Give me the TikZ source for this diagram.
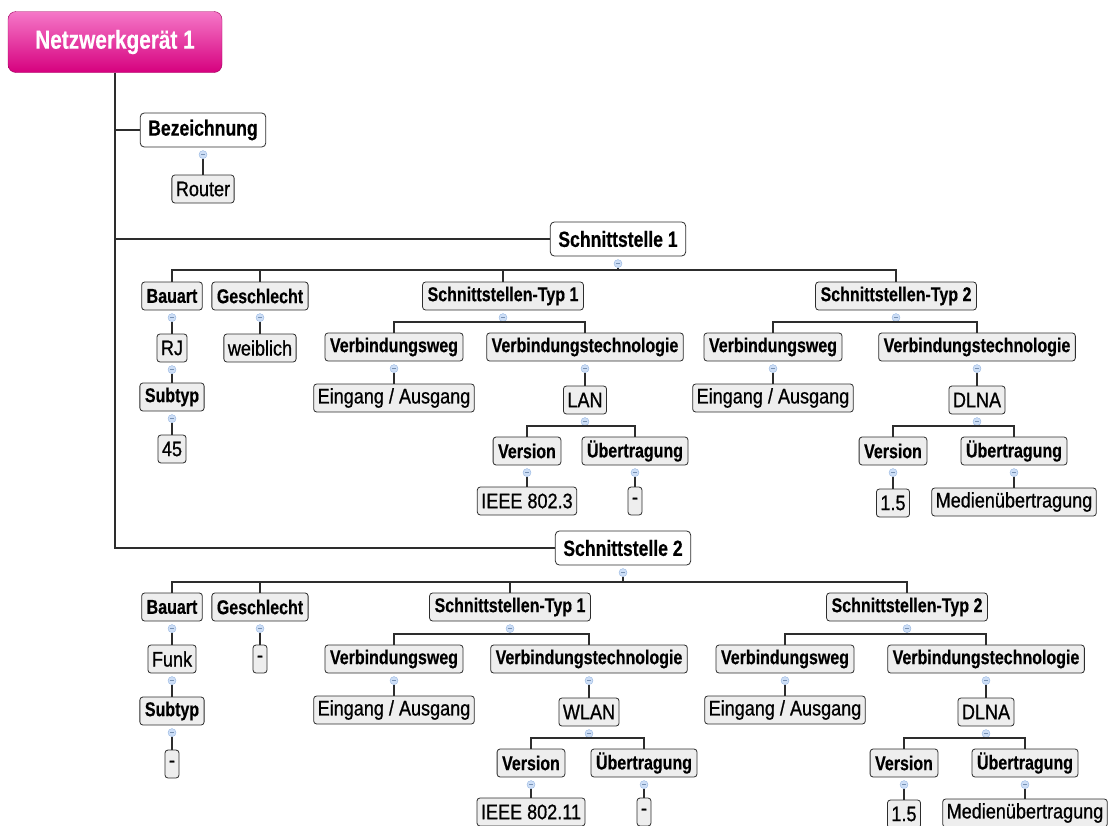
\documentclass[tikz,border=0pt]{standalone}
\usepackage{fontspec}
\setmainfont{Liberation Sans}[FakeStretch=0.86, FakeBold=0.8]
\newfontfamily\headfont{Liberation Sans}[FakeStretch=0.8, FakeBold=0.4]
\usepackage{tikz}
\usetikzlibrary{positioning}
\definecolor{linegray}{RGB}{45,45,45}
\definecolor{boxgray}{RGB}{238,238,238}
\definecolor{dotblue}{RGB}{205,222,246}
\definecolor{dotrim}{RGB}{150,182,225}
\definecolor{rootpink}{RGB}{245,120,200}
\definecolor{rootmag}{RGB}{214,0,126}
\tikzstyle{root} = [rectangle, rounded corners=8pt, draw=rootmag!75!black, top color=rootpink,
    bottom color=rootmag, text=white, font=\headfont\bfseries\fontsize{26}{28}\selectfont,
    minimum width=214pt, minimum height=61pt]
\tikzstyle{group} = [rectangle, rounded corners=4pt, draw=linegray, fill=white, thick,
    font=\headfont\bfseries\fontsize{22}{24}\selectfont, minimum height=34pt, inner xsep=8pt]
\tikzstyle{field} = [rectangle, rounded corners=3pt, draw=linegray, fill=boxgray, thick,
    font=\headfont\bfseries\fontsize{20}{22}\selectfont, minimum height=28pt, inner xsep=5pt]
\tikzstyle{value} = [field, font=\fontsize{21}{23}\selectfont, inner xsep=4pt]
\tikzstyle{dot} = [circle, draw=dotrim, fill=dotblue, inner sep=0pt, minimum size=8pt,
    path picture={\draw[dotrim!80!black, line width=0.6pt]
      ([xshift=-2pt]path picture bounding box.center) -- ([xshift=2pt]path picture bounding box.center);}]
\tikzstyle{link} = [draw=linegray, line width=1.2pt]

\begin{document}
\begin{tikzpicture}[x=1pt, y=-1pt]
    \useasboundingbox (0,0) rectangle (1111,825);
    \clip (0,0) rectangle (1111,825);

    \node[root] (geraet) at (115,42) {Netzwerkgerät 1};
    \node[group] (bez) at (203,130) {Bezeichnung};
    \node[value] (router) at (203,189) {Router};
    \node[group] (sA) at (618,239) {Schnittstelle 1};
    \node[group] (sB) at (623,548) {Schnittstelle 2};

    % Schnittstelle 1
    \node[field] (bauA) at (172,296) {Bauart};
    \node[field] (gesA) at (260,296) {Geschlecht};
    \node[field] (typA1) at (503,296) {Schnittstellen-Typ 1};
    \node[field] (typA2) at (896,296) {Schnittstellen-Typ 2};
    \node[value] (rjA) at (172,348) {RJ};
    \node[field] (subA) at (172,397) {Subtyp};
    \node[value] (numA) at (172,449) {45};
    \node[value] (weibA) at (260,348) {weiblich};
    \node[field] (wegA1) at (394,347) {Verbindungsweg};
    \node[field] (techA1) at (585,347) {Verbindungstechnologie};
    \node[value] (eaA1) at (394,398) {Eingang / Ausgang};
    \node[value] (lanA) at (585,400) {LAN};
    \node[field] (verA1) at (527,451) {Version};
    \node[field] (uebA1) at (635,451) {Übertragung};
    \node[value] (ieeeA) at (527,501) {IEEE 802.3};
    \node[value] (nonA) at (635,501) {-};
    \node[field] (wegA2) at (773,347) {Verbindungsweg};
    \node[field] (techA2) at (977,347) {Verbindungstechnologie};
    \node[value] (eaA2) at (773,398) {Eingang / Ausgang};
    \node[value] (dlnaA) at (977,400) {DLNA};
    \node[field] (verA2) at (893,451) {Version};
    \node[field] (uebA2) at (1014,451) {Übertragung};
    \node[value] (numA2) at (893,503) {1.5};
    \node[value] (medA) at (1014,502) {Medienübertragung};

    % Schnittstelle 2
    \node[field] (bauB) at (172,607) {Bauart};
    \node[field] (gesB) at (260,607) {Geschlecht};
    \node[field] (typB1) at (510,607) {Schnittstellen-Typ 1};
    \node[field] (typB2) at (907,607) {Schnittstellen-Typ 2};
    \node[value] (funkB) at (172,659) {Funk};
    \node[field] (subB) at (172,711) {Subtyp};
    \node[value] (nonB1) at (172,764) {-};
    \node[value] (nonB2) at (260,659) {-};
    \node[field] (wegB1) at (394,659) {Verbindungsweg};
    \node[field] (techB1) at (589,659) {Verbindungstechnologie};
    \node[value] (eaB1) at (394,710) {Eingang / Ausgang};
    \node[value] (wlanB) at (589,712) {WLAN};
    \node[field] (verB1) at (531,763) {Version};
    \node[field] (uebB1) at (644,763) {Übertragung};
    \node[value] (ieeeB) at (531,812) {IEEE 802.11};
    \node[value] (nonB3) at (644,812) {-};
    \node[field] (wegB2) at (785,659) {Verbindungsweg};
    \node[field] (techB2) at (986,659) {Verbindungstechnologie};
    \node[value] (eaB2) at (785,710) {Eingang / Ausgang};
    \node[value] (dlnaB) at (986,712) {DLNA};
    \node[field] (verB2) at (904,763) {Version};
    \node[field] (uebB2) at (1025,763) {Übertragung};
    \node[value] (numB2) at (904,814) {1.5};
    \node[value] (medB) at (1025,813) {Medienübertragung};

    % trunk
    \draw[link] (geraet.south) -- (geraet.south |- sB) -- (sB);
    \draw[link] (geraet.south |- bez) -- (bez);
    \draw[link] (geraet.south |- sA) -- (sA);

    % collapse dots
    \foreach \p in {bez,sA,bauA,rjA,subA,gesA,typA1,typA2,wegA1,techA1,lanA,verA1,uebA1,
        wegA2,techA2,dlnaA,verA2,uebA2,sB,bauB,funkB,subB,gesB,typB1,typB2,wegB1,techB1,
        wlanB,verB1,uebB1,wegB2,techB2,dlnaB,verB2,uebB2}
      \node[dot, below=3pt of \p] (d\p) {};

    % one child
    \foreach \p/\c in {bez/router,bauA/rjA,rjA/subA,subA/numA,gesA/weibA,wegA1/eaA1,
        techA1/lanA,verA1/ieeeA,uebA1/nonA,wegA2/eaA2,techA2/dlnaA,verA2/numA2,uebA2/medA,
        bauB/funkB,funkB/subB,subB/nonB1,gesB/nonB2,wegB1/eaB1,techB1/wlanB,verB1/ieeeB,
        uebB1/nonB3,wegB2/eaB2,techB2/dlnaB,verB2/numB2,uebB2/medB}
      \draw[link] (d\p) -- (\c);

    % several children
    \foreach \p/\y/\l/\r in {sA/270/bauA/typA2,typA1/322/wegA1/techA1,lanA/426/verA1/uebA1,
        typA2/322/wegA2/techA2,dlnaA/426/verA2/uebA2,sB/582/bauB/typB2,typB1/634/wegB1/techB1,
        wlanB/738/verB1/uebB1,typB2/634/wegB2/techB2,dlnaB/738/verB2/uebB2}
    {
      \draw[link] (d\p) -- (d\p |- 0,\y);
      \draw[link] (\l) |- (\r.north |- 0,\y) -- (\r);
    }
    \draw[link] (gesA) -- (gesA |- 0,270);
    \draw[link] (typA1) -- (typA1 |- 0,270);
    \draw[link] (gesB) -- (gesB |- 0,582);
    \draw[link] (typB1) -- (typB1 |- 0,582);
\end{tikzpicture}
\end{document}
